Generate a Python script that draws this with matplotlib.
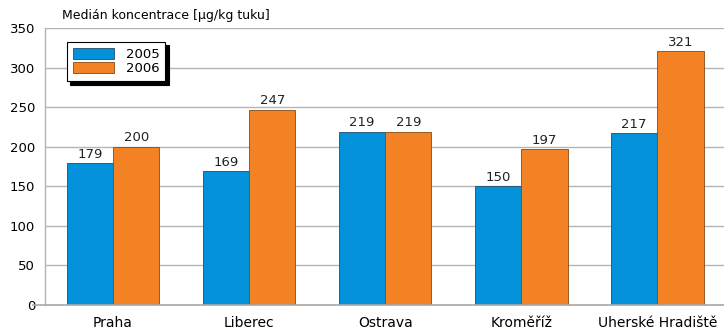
import matplotlib
matplotlib.use("Agg")
import matplotlib.pyplot as plt
import numpy as np

plt.rcParams['font.family'] = ['DejaVu Sans']

cities = ["Praha", "Liberec", "Ostrava", "Kroměříž", "Uherské Hradiště"]
values_2005 = [179, 169, 219, 150, 217]
values_2006 = [200, 247, 219, 197, 321]
years = ["2005", "2006"]
yticks = [0, 50, 100, 150, 200, 250, 300, 350]

blue = "#0391d9"
orange = "#f28224"

fig = plt.figure(figsize=(7.24, 3.29), dpi=100)
ax = fig.add_axes([45/724, 24/329, 1 - 45/724, 277/329])

x = np.arange(len(cities))
w = 0.34
b1 = ax.bar(x - w/2, values_2005, w, color=blue, edgecolor="#1f4f6e", linewidth=0.6, label=years[0], zorder=3)
b2 = ax.bar(x + w/2, values_2006, w, color=orange, edgecolor="#8a4a14", linewidth=0.6, label=years[1], zorder=3)

for bars, vals in ((b1, values_2005), (b2, values_2006)):
    for r, v in zip(bars, vals):
        ax.text(r.get_x() + r.get_width()/2, v + 3, str(v), ha="center", va="bottom",
                fontsize=9.5, color="#222222")

ax.set_xlim(-0.5, 4.49)
ax.set_ylim(0, 350)
ax.set_yticks(yticks)
ax.set_xticks(x)
ax.set_xticklabels(cities, fontsize=10)
ax.tick_params(axis="y", length=0, pad=7, labelsize=9.5)
ax.tick_params(axis="x", length=0, pad=8)
ax.yaxis.grid(True, color="#b4b4b4", linewidth=1, zorder=0)
for s in ("top", "right", "bottom"):
    ax.spines[s].set_visible(False)
ax.spines["left"].set_color("#b4b4b4")
ax.spines["left"].set_linewidth(1)
ax.axhline(0, xmin=-0.018, xmax=1, color="#a8a8a8", linewidth=1.2, clip_on=False, zorder=4)

fig.text(62/724, 1 - 15/329, "Medián koncentrace [µg/kg tuku]", fontsize=9, va="center", ha="left")

leg = ax.legend(loc="upper left", bbox_to_anchor=(22/679, (305-42)/277), borderaxespad=0,
                fontsize=9.5, frameon=True, fancybox=False,
                shadow={"color": "black", "alpha": 1, "ox": 2.5, "oy": -2.5},
                edgecolor="black", handlelength=3.1, handleheight=0.9,
                borderpad=0.45, labelspacing=0.1, handletextpad=0.9)
leg.get_frame().set_linewidth(0.8)

fig.savefig("out.png", dpi=100)
